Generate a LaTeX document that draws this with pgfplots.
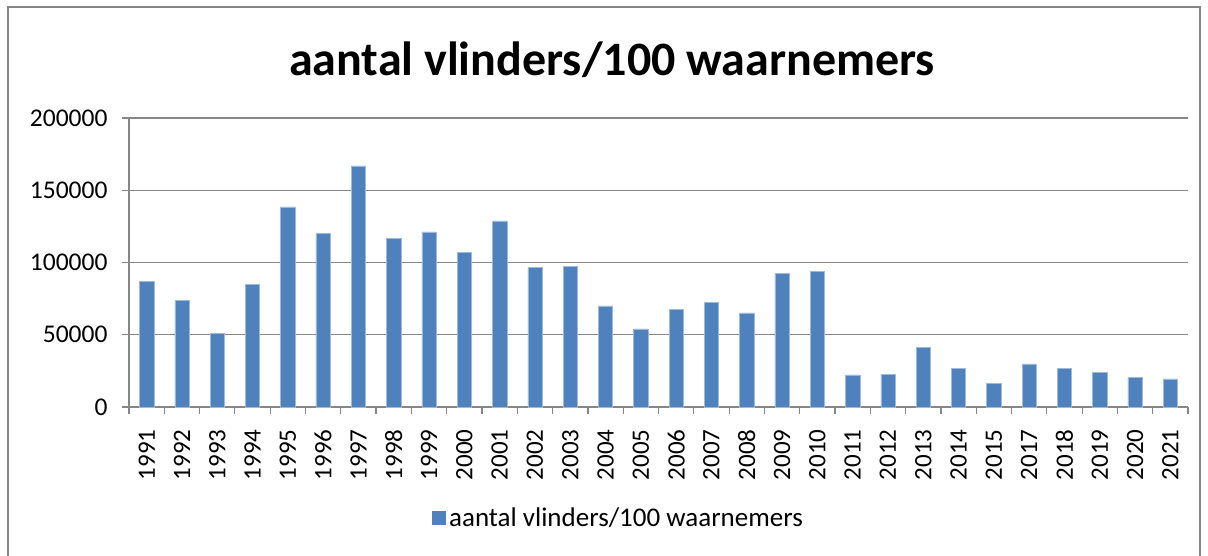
\documentclass[border=0pt]{standalone}
\usepackage{pgfplots}
\pgfplotsset{compat=1.18}
\usepackage{fontspec}
\setmainfont{Carlito}
\definecolor{barblue}{HTML}{4F81BD}
\definecolor{gridgray}{HTML}{868686}
\begin{document}
\begin{tikzpicture}[x=1pt,y=1pt]
\useasboundingbox (0,0) rectangle (1208,555);
\fill[white] (0,0) rectangle (1208,555);
\draw[gridgray, line width=1.2pt] (8,-10) rectangle (1200,548);
\node[font=\fontsize{48}{54}\selectfont\bfseries] at (612,495) {aantal vlinders/100 waarnemers};
\begin{axis}[
  at={(129pt,148pt)}, anchor=south west,
  width=1059pt, height=289pt, scale only axis,
  xmin=-0.5, xmax=29.5, ymin=0, ymax=200000,
  axis x line*=bottom, axis y line*=left,
  axis line style={gridgray, line width=1.2pt},
  xtick={0,...,29},
  xticklabels={1991,1992,1993,1994,1995,1996,1997,1998,1999,2000,2001,2002,2003,2004,2005,2006,2007,2008,2009,2010,2011,2012,2013,2014,2015,2017,2018,2019,2020,2021},
  major x tick style={draw=none},
  minor xtick={-0.5,0.5,...,29.5},
  minor x tick style={gridgray, line width=1.2pt},
  minor tick length=7pt,
  xtick align=outside, ytick align=outside,
  x tick label style={rotate=90, anchor=east, font=\fontsize{25}{28}\selectfont},
  xticklabel shift=12pt,
  ytick={0,50000,100000,150000,200000},
  y tick style={gridgray, line width=1.2pt},
  major tick length=7pt,
  y tick label style={font=\fontsize{25.5}{28}\selectfont},
  yticklabel shift=11pt,
  scaled y ticks=false,
  yticklabel={\pgfmathprintnumber[fixed, 1000 sep={}]{\tick}},
  /pgf/number format/assume math mode=true,
  ymajorgrids, grid style={gridgray, line width=1.2pt},
  legend style={at={(0.462,-0.384)}, anchor=center, draw=none, font=\fontsize{27}{30}\selectfont, /tikz/every odd column/.append style={column sep=2pt}},
  legend image code/.code={\fill[barblue] (0pt,-6.5pt) rectangle (13pt,6.5pt);},
]
\addplot[ybar, bar width=14.3pt, fill=barblue, draw=barblue!55!white, line width=0.5pt] coordinates {
(0,87150) (1,73970) (2,50860) (3,85070) (4,138470) (5,119970) (6,166900) (7,116740) (8,121130) (9,107260)
(10,128760) (11,96630) (12,97090) (13,70040) (14,54090) (15,67730) (16,72590) (17,65190) (18,92230) (19,94080)
(20,22190) (21,22420) (22,41380) (23,26590) (24,16180) (25,29820) (26,26820) (27,24040) (28,20570) (29,19420)
};
\addlegendentry{aantal vlinders/100 waarnemers}
\end{axis}
\end{tikzpicture}
\end{document}
